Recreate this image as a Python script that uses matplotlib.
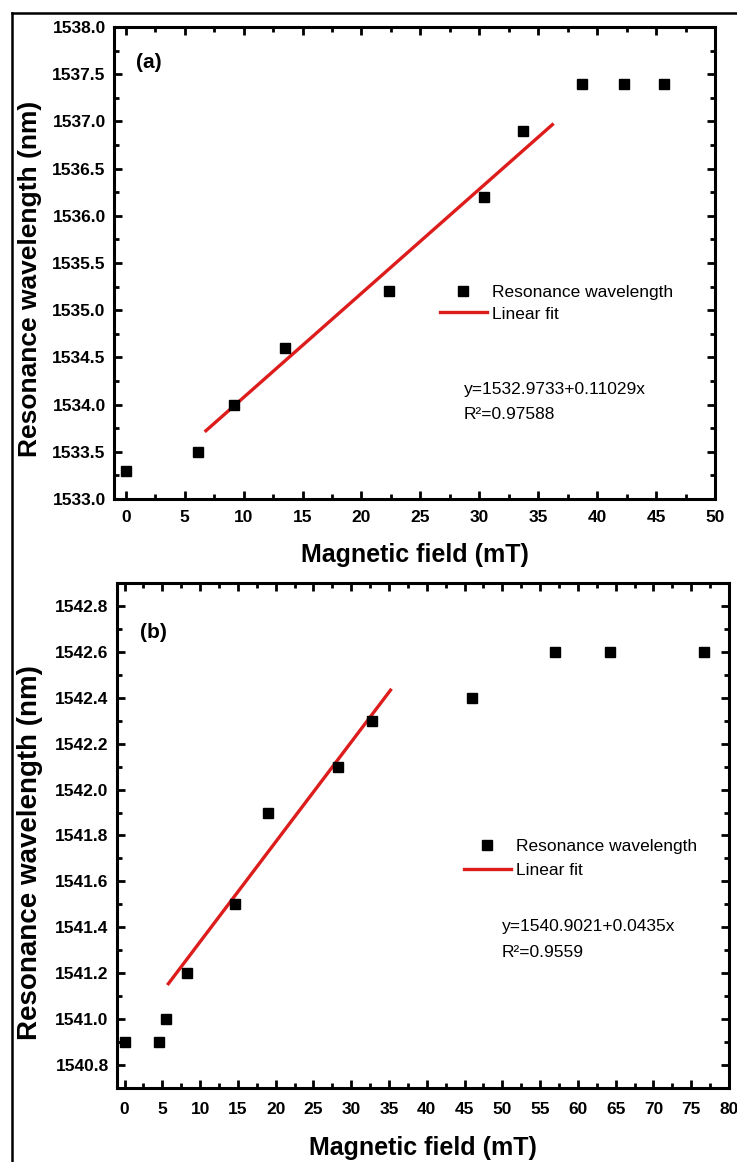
import matplotlib
matplotlib.use("Agg")
import matplotlib.pyplot as plt
from matplotlib.lines import Line2D
from matplotlib.ticker import MultipleLocator, FormatStrFormatter
import numpy as np

plt.rcParams['font.family'] = ['Liberation Sans', 'DejaVu Sans']

# Panel (a)
field_a = [0, 6.1, 9.2, 13.5, 22.3, 30.4, 33.7, 38.7, 42.3, 45.7]
wave_a = [1533.3, 1533.5, 1534.0, 1534.6, 1535.2, 1536.2, 1536.9, 1537.4, 1537.4, 1537.4]
fit_a_intercept, fit_a_slope = 1532.9733, 0.11029
fit_a_range = [6.8, 36.2]
fit_a_text = ["y=1532.9733+0.11029x", "R²=0.97588"]

# Panel (b)
field_b = [0, 4.6, 5.5, 8.2, 14.6, 19.0, 28.2, 32.8, 46.0, 57.0, 64.2, 76.7]
wave_b = [1540.9, 1540.9, 1541.0, 1541.2, 1541.5, 1541.9, 1542.1, 1542.3, 1542.4, 1542.6, 1542.6, 1542.6]
fit_b_intercept, fit_b_slope = 1540.9021, 0.0435
fit_b_range = [5.8, 35.2]
fit_b_text = ["y=1540.9021+0.0435x", "R²=0.9559"]

W, H = 737, 1162
fig = plt.figure(figsize=(W / 100, H / 100), dpi=100)


def px_axes(left, top, right, bottom):
    return fig.add_axes([left / W, 1 - bottom / H, (right - left) / W, (bottom - top) / H])


RED = '#dd1c1c'


def style(ax, xmaj, xmin, ymaj, ymin, xpad):
    for s in ax.spines.values():
        s.set_linewidth(2.2)
    ax.xaxis.set_major_locator(MultipleLocator(xmaj))
    ax.xaxis.set_minor_locator(MultipleLocator(xmin))
    ax.yaxis.set_major_locator(MultipleLocator(ymaj))
    ax.yaxis.set_minor_locator(MultipleLocator(ymin))
    ax.yaxis.set_major_formatter(FormatStrFormatter('%.1f'))
    ax.tick_params(which='both', direction='in', top=True, right=True, width=2)
    ax.tick_params(which='major', length=6)
    ax.tick_params(which='minor', length=3.5)
    ax.tick_params(axis='x', which='major', pad=xpad)
    ax.tick_params(axis='y', which='major', pad=6)
    for lab in ax.get_xticklabels() + ax.get_yticklabels():
        lab.set_fontweight('bold')
        lab.set_fontsize(12.5)


def panel(ax, fx, wy, b0, b1, frange, ftext, tag, leg_xy, leg_sp, txt_xy, txt_dy):
    ax.plot(fx, wy, 's', color='black', ms=6.5, label='Resonance wavelength', zorder=3)
    xs = np.array(frange)
    ax.plot(xs, b0 + b1 * xs, '-', color=RED, lw=2.4, label='Linear fit', zorder=2)
    ax.text(*tag[1], tag[0], transform=ax.transAxes, fontsize=15, fontweight='bold',
            va='center', ha='left')
    ax.legend(loc='center left', bbox_to_anchor=leg_xy, frameon=False, fontsize=12.5,
              handlelength=2.7, handletextpad=0.3, borderpad=0, borderaxespad=0,
              labelspacing=leg_sp)
    ax.text(txt_xy[0], txt_xy[1], ftext[0], transform=ax.transAxes, fontsize=12.5,
            va='center', ha='left')
    ax.text(txt_xy[0], txt_xy[1] - txt_dy, ftext[1], transform=ax.transAxes, fontsize=12.5,
            va='center', ha='left')


# Top panel
ax1 = px_axes(114, 27, 715, 499)
ax1.set_xlim(-1, 50)
ax1.set_ylim(1533.0, 1538.0)
style(ax1, 5, 2.5, 0.5, 0.25, 8)
panel(ax1, field_a, wave_a, fit_a_intercept, fit_a_slope, fit_a_range, fit_a_text,
      ('(a)', (0.037, 0.924)), (0.5424, 0.415), 0.38, (0.582, 0.231), 0.053)

# Bottom panel
ax2 = px_axes(117, 583, 729, 1088)
ax2.set_xlim(-1, 80)
ax2.set_ylim(1540.7, 1542.9)
style(ax2, 5, 2.5, 0.2, 0.1, 10)
panel(ax2, field_b, wave_b, fit_b_intercept, fit_b_slope, fit_b_range, fit_b_text,
      ('(b)', (0.0376, 0.901)), (0.567, 0.4545), 0.55, (0.629, 0.319), 0.05)

# Axis titles
fig.text(30 / W, 1 - 279 / H, 'Resonance wavelength (nm)', rotation=90, fontsize=19,
         fontweight='bold', ha='center', va='center')
fig.text(415 / W, 1 - 555 / H, 'Magnetic field (mT)', fontsize=18,
         fontweight='bold', ha='center', va='center')
fig.text(30 / W, 1 - 853 / H, 'Resonance wavelength (nm)', rotation=90, fontsize=20,
         fontweight='bold', ha='center', va='center')
fig.text(423 / W, 1 - 1148 / H, 'Magnetic field (mT)', fontsize=18,
         fontweight='bold', ha='center', va='center')

# Outer frame (left and top edges)
fig.add_artist(Line2D([11.5 / W, 11.5 / W], [0, 1 - 13 / H], color='black', lw=1.8,
                      transform=fig.transFigure))
fig.add_artist(Line2D([11.5 / W, 1], [1 - 13 / H, 1 - 13 / H], color='black', lw=1.8,
                      transform=fig.transFigure))

fig.savefig('out.png', dpi=100)
